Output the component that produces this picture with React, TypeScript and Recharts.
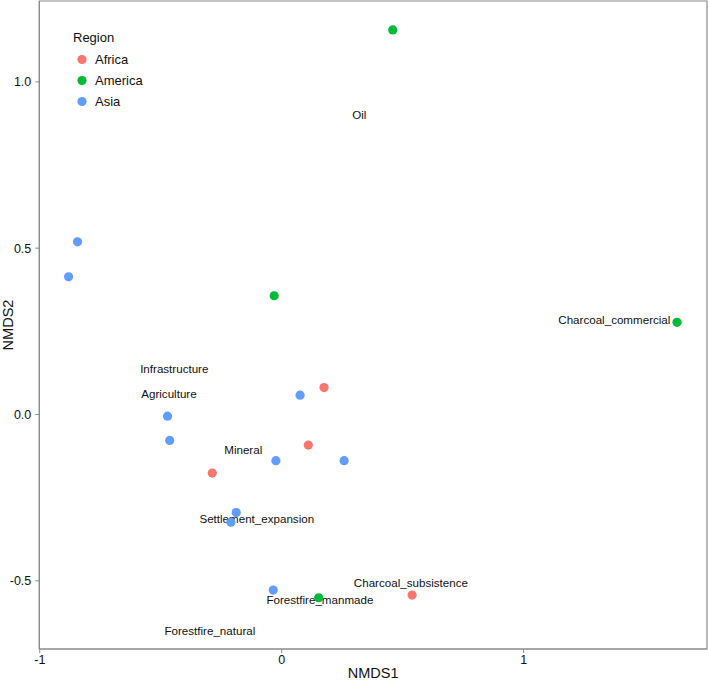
import React from 'react';
import { ScatterChart, Scatter, XAxis, YAxis, ReferenceArea, Label } from 'recharts';

const regions = ['Africa', 'America', 'Asia'];
const regionColors = ['#F8766D', '#00BA38', '#619CFF'];

const africaX = [0.175, 0.11, -0.287, 0.539];
const africaY = [0.081, -0.092, -0.176, -0.543];
const americaX = [0.459, -0.031, 1.634, 0.153];
const americaY = [1.156, 0.357, 0.277, -0.551];
const asiaX = [-0.844, -0.881, 0.076, -0.472, -0.463, -0.024, 0.258, -0.188, -0.21, -0.035];
const asiaY = [0.519, 0.414, 0.058, -0.005, -0.078, -0.139, -0.139, -0.295, -0.324, -0.528];

const drivers = [
  'Oil',
  'Charcoal_commercial',
  'Infrastructure',
  'Agriculture',
  'Mineral',
  'Settlement_expansion',
  'Charcoal_subsistence',
  'Forestfire_manmade',
  'Forestfire_natural',
];
const driverX = [0.321, 1.375, -0.444, -0.466, -0.159, -0.103, 0.534, 0.158, -0.297];
const driverY = [0.902, 0.287, 0.137, 0.063, -0.104, -0.313, -0.504, -0.556, -0.649];

const xTicks = [-1, 0, 1];
const yTicks = [-0.5, 0, 0.5, 1];
const xDomain = [-1.002, 1.758];
const yDomain = [-0.705, 1.243];

const toPoints = (xs: number[], ys: number[]) => xs.map((x, i) => ({ x, y: ys[i] }));
const seriesData = [toPoints(africaX, africaY), toPoints(americaX, americaY), toPoints(asiaX, asiaY)];
const labelData = drivers.map((name, i) => ({ name, x: driverX[i], y: driverY[i] }));

const FONT = 'Arial, "Liberation Sans", Helvetica, sans-serif';
const FRAME = '#8a8a8a';

const LabelShape = (props: any) => (
  <text
    x={props.cx}
    y={props.cy}
    textAnchor="middle"
    dominantBaseline="central"
    fontSize={11.6}
    fontFamily={FONT}
    fill="#111"
  >
    {props.payload.name}
  </text>
);

const Legend = () => (
  <div style={{ position: 'absolute', left: 73, top: 29, fontFamily: FONT, color: '#111' }}>
    <div style={{ fontSize: 13, lineHeight: '18px', marginBottom: 2 }}>Region</div>
    {regions.map((r, i) => (
      <div key={r} style={{ display: 'flex', alignItems: 'center', height: 21 }}>
        <svg width={22} height={21}>
          <circle cx={9} cy={10.5} r={4.6} fill={regionColors[i]} />
        </svg>
        <span style={{ fontSize: 13 }}>{r}</span>
      </div>
    ))}
  </div>
);

export default function App() {
  return (
    <div style={{ position: 'absolute', left: 0, top: 0, width: 708, height: 681, background: '#fff' }}>
      <ScatterChart width={708} height={681} margin={{ top: 1, right: 1, bottom: 0, left: 0 }}>
        <XAxis
          type="number"
          dataKey="x"
          domain={xDomain}
          ticks={xTicks}
          allowDataOverflow
          height={32}
          tickSize={4}
          tickMargin={2}
          stroke={FRAME}
          tick={{ fill: '#111', fontSize: 12.5, fontFamily: FONT }}
        >
          <Label
            content={({ viewBox }: any) => (
              <text
                x={viewBox.x + viewBox.width / 2}
                y={678}
                textAnchor="middle"
                fontSize={14.5}
                fontFamily={FONT}
                fill="#111"
              >
                NMDS1
              </text>
            )}
          />
        </XAxis>
        <YAxis
          type="number"
          dataKey="y"
          domain={yDomain}
          ticks={yTicks}
          allowDataOverflow
          width={39.3}
          tickSize={4}
          tickMargin={4}
          stroke={FRAME}
          tickFormatter={(v: number) => v.toFixed(1)}
          tick={{ fill: '#111', fontSize: 12.5, fontFamily: FONT }}
        >
          <Label
            content={({ viewBox }: any) => {
              const cy = viewBox.y + viewBox.height / 2;
              return (
                <text
                  x={13}
                  y={cy}
                  transform={`rotate(-90, 13, ${cy})`}
                  textAnchor="middle"
                  fontSize={14.5}
                  fontFamily={FONT}
                  fill="#111"
                >
                  NMDS2
                </text>
              );
            }}
          />
        </YAxis>
        <ReferenceArea
          x1={xDomain[0]}
          x2={xDomain[1]}
          y1={yDomain[0]}
          y2={yDomain[1]}
          fill="none"
          stroke={FRAME}
          strokeWidth={1.2}
          ifOverflow="visible"
        />
        <Scatter data={labelData} shape={LabelShape} isAnimationActive={false} />
        {regions.map((r, i) => (
          <Scatter
            key={r}
            name={r}
            data={seriesData[i]}
            fill={regionColors[i]}
            isAnimationActive={false}
            shape={(p: any) => <circle cx={p.cx} cy={p.cy} r={4.6} fill={regionColors[i]} />}
          />
        ))}
      </ScatterChart>
      <Legend />
    </div>
  );
}
